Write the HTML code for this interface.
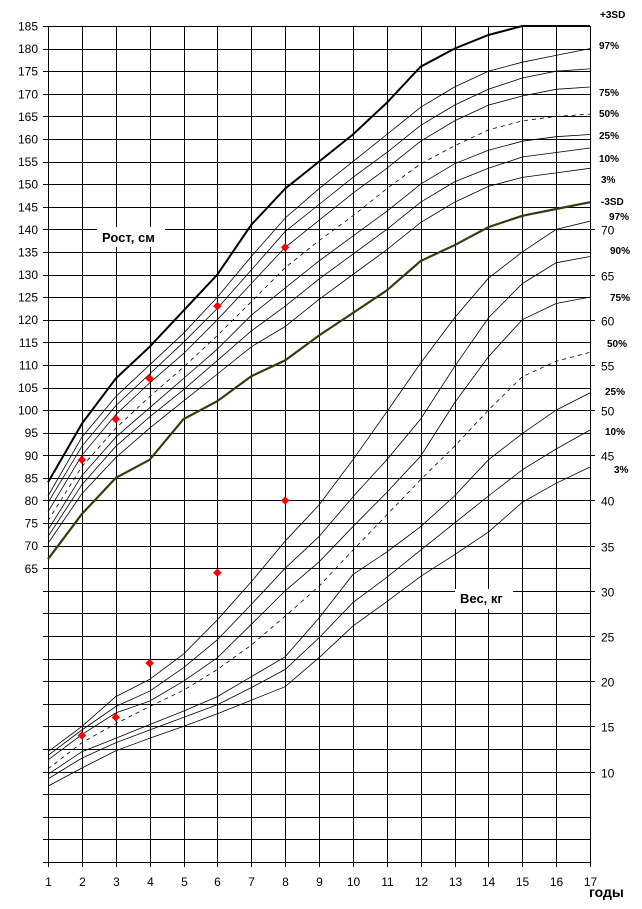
<!DOCTYPE html>
<html><head><meta charset="utf-8"><style>
html,body{margin:0;padding:0;background:#fff;}
svg{display:block;font-family:"Liberation Sans",Arial,sans-serif;}
</style></head><body>
<svg id="chart" width="642" height="909" viewBox="0 0 642 909" xmlns="http://www.w3.org/2000/svg">
<g id="grid"></g>
<g id="curves"></g>
<g id="points"></g>
<g id="labels"></g>
</svg>
<script>
const ages=[1,2,3,4,5,6,7,8,9,10,11,12,13,14,15,16,17];
const hPlus3SD=[84,97,107,114,122,130,141,149,155,161,168,176,180,183,185,185,185];
const h97=[81,94,103,110,117,125,134,142.5,149,155,161,167,171.5,175,177,178.5,180];
const h90=[79.5,92,101,108,115,122.5,131,139.5,145.5,151.5,157,163,167.5,171,173.5,175,175.5];
const h75=[77.5,90,99,106,112.5,120,128,136,142,148,153.5,159.5,164,167.5,169.5,171,171.5];
const h50=[75.5,87.5,96,103,109.5,116.5,124,131.5,137.5,143,149,154.5,158.5,162,164,165,165.5];
const h25=[73.5,85.5,94,100.5,107,113.5,121,127,133,138.5,144,150,154.5,157.5,159.5,160.5,161];
const h10=[72,83.5,92,98.5,104.5,111,117.5,123,129,134.5,140,146,150.5,153.5,156,157,158];
const h3=[70.5,81.5,89.5,96,102,108,114,118.5,124.5,130,135.5,141.5,146,149.5,151.5,152.5,153.5];
const hMinus3SD=[67,77,85,89,98,102,107.5,111,116.5,121.5,126.5,133,136.5,140.5,143,144.5,146];
const w97=[12.2,15.0,18.3,20.2,23.0,26.8,31,35.5,39.5,44.5,49.8,55.2,60.2,64.6,67.5,70.0,70.9];
const w90=[11.8,14.6,17.2,18.9,21.5,24.6,28.5,32.5,36,40.4,44.5,49,54.8,60.2,64.0,66.3,67.0];
const w75=[11.3,14.1,16.5,17.8,20,22.6,26.3,30,33.2,37.1,40.9,44.9,50.8,55.9,60.0,61.8,62.5];
const w50=[10.3,13.2,15.3,17.2,19,21.3,24,27.2,30.5,34.5,38.4,42.3,46,50,53.7,55.4,56.4];
const w25=[9.7,12.2,13.7,15.2,16.7,18.3,20.5,22.7,27,31.8,34.3,37.1,40.5,44.5,47.4,50,51.9];
const w10=[9.2,11.5,13.2,14.6,16,17.4,19.3,21.3,24.8,28.7,31.5,34.5,37.5,40.5,43.4,45.7,47.8];
const w3=[8.4,10.4,12.3,13.7,15,16.4,17.9,19.4,22.6,26.1,28.8,31.6,34,36.5,39.8,41.9,43.7];
const patientAges=[2,3,4,6,8];
const patientHeight=[89,98,107,123,136];
const patientWeight=[14,16,22,32,40];
const heightTicks=[185,180,175,170,165,160,155,150,145,140,135,130,125,120,115,110,105,100,95,90,85,80,75,70,65];
const weightTicks=[70,65,60,55,50,45,40,35,30,25,20,15,10];

const NS="http://www.w3.org/2000/svg";
const X0=48,X1=590,Y0=26,YB=862;
function xA(a){return X0+(a-1)*(X1-X0)/16;}
function yH(h){return Y0+(185-h)*(YB-Y0)/185;}
function yW(w){return yH(20+2*(w-10));}
function mk(tag,attrs,parent){const e=document.createElementNS(NS,tag);for(const k in attrs)e.setAttribute(k,attrs[k]);parent.appendChild(e);return e;}

const grid=document.getElementById('grid');
for(let h=185;h>=0;h-=5){
  const y=Math.round(yH(h))+0.5;
  const l=mk('line',{x1:43,x2:X1,y1:y,y2:y,stroke:'#000','stroke-width':1},grid);
  
  
}
for(let a=1;a<=17;a++){
  const x=Math.round(xA(a))+0.5;
  const l=mk('line',{x1:x,x2:x,y1:Y0,y2:YB+5,stroke:'#000','stroke-width':1},grid);
  
  
  const t=mk('text',{x:x,y:886,'font-size':12,'text-anchor':'middle',fill:'#000'},grid);
  t.textContent=a;
  
  
}
heightTicks.forEach(h=>{
  const t=mk('text',{x:38,y:yH(h)+4.5,'font-size':12,'text-anchor':'end',fill:'#000'},grid);
  t.textContent=h;
  
  
});
weightTicks.forEach(w=>{
  const y=Math.round(yW(w))+0.5;
  const l=mk('line',{x1:X1,x2:595,y1:y,y2:y,stroke:'#000','stroke-width':1},grid);
  
  
  const t=mk('text',{x:601,y:y+5,'font-size':12,fill:'#000'},grid);
  t.textContent=w;
  
  
});

const curves=document.getElementById('curves');
function curve(vals,yf,name,opts){
  const d=vals.map((v,i)=>(i?'L':'M')+xA(ages[i]).toFixed(1)+' '+yf(v).toFixed(1)).join(' ');
  const p=mk('path',{d:d,fill:'none',stroke:opts.c||'#000','stroke-width':opts.w||0.8},curves);
  if(opts.dash)p.setAttribute('stroke-dasharray','4 4');
  
  
}
curve(hPlus3SD,yH,'height-plus3sd',{w:2});
curve(h97,yH,'height-p97',{});
curve(h90,yH,'height-p90',{});
curve(h75,yH,'height-p75',{});
curve(h50,yH,'height-p50',{dash:1});
curve(h25,yH,'height-p25',{});
curve(h10,yH,'height-p10',{});
curve(h3,yH,'height-p3',{});
curve(hMinus3SD,yH,'height-minus3sd',{w:2.2,c:'#3a3a10'});
curve(w97,yW,'weight-p97',{});
curve(w90,yW,'weight-p90',{});
curve(w75,yW,'weight-p75',{});
curve(w50,yW,'weight-p50',{dash:1});
curve(w25,yW,'weight-p25',{});
curve(w10,yW,'weight-p10',{});
curve(w3,yW,'weight-p3',{});

const pts=document.getElementById('points');
patientAges.forEach((a,i)=>{
  const c1=mk('rect',{x:xA(a)-3,y:yH(patientHeight[i])-3,width:6,height:6,fill:'#f00',transform:`rotate(45 ${xA(a)} ${yH(patientHeight[i])})`},pts);
  
  
  const c2=mk('rect',{x:xA(a)-3,y:yW(patientWeight[i])-3,width:6,height:6,fill:'#f00',transform:`rotate(45 ${xA(a)} ${yW(patientWeight[i])})`},pts);
  
  
});

const lab=document.getElementById('labels');
function txt(s,x,y,size,name,bg){
  if(bg){const r=mk('rect',{x:bg[0],y:bg[1],width:bg[2],height:bg[3],fill:'#fff'},lab);
    
    }
  const t=mk('text',{x:x,y:y,'font-size':size,'font-weight':'bold',fill:'#000'},lab);
  t.textContent=s;
  
  
}
txt('Рост, см',102,242,13,'height-axis-title',[97,227,68,20]);
txt('Вес, кг',460,603,13,'weight-axis-title',[455,589,58,20]);
txt('годы',589,897,14,'x-axis-title');
txt('+3SD',600,18,10,'label-plus3sd');
txt('97%',599,49,10,'label-h97');
txt('75%',599,96,10,'label-h75');
txt('50%',599,117,10,'label-h50');
txt('25%',599,139,10,'label-h25');
txt('10%',599,162,10,'label-h10');
txt('3%',601,183,10,'label-h3');
txt('-3SD',601,205,10,'label-minus3sd');
txt('97%',609,220,10,'label-w97');
txt('90%',610,254,10,'label-w90');
txt('75%',610,301,10,'label-w75');
txt('50%',607,347,10,'label-w50');
txt('25%',605,395,10,'label-w25');
txt('10%',605,435,10,'label-w10');
txt('3%',614,473,10,'label-w3');
</script>
</body></html>
